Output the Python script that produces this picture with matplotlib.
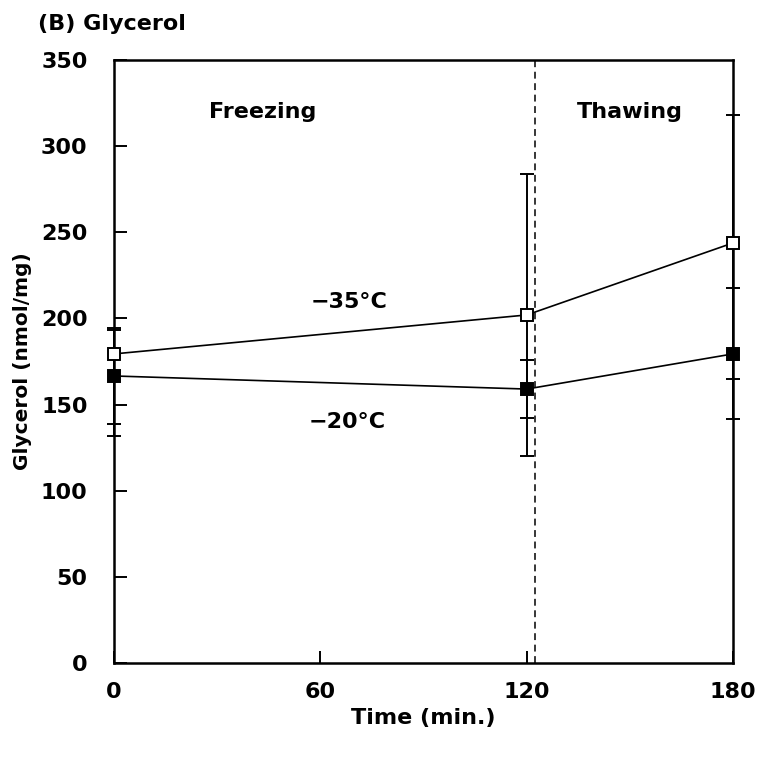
import matplotlib
matplotlib.use("Agg")
import matplotlib.pyplot as plt

plt.rcParams["font.family"] = ["DejaVu Sans"]
plt.rcParams["font.weight"] = "bold"

# data
time_min = [0, 120, 180]
glycerol_m35 = [179.4, 202.0, 243.8]
err_m35_low = [47.5, 82.0, 78.8]
err_m35_high = [14.1, 82.0, 74.3]
glycerol_m20 = [166.6, 159.0, 179.4]
err_m20 = [27.7, 16.7, 38.0]
boundary_min = 122.5
x_ticks = [0, 60, 120, 180]
y_ticks = [0, 50, 100, 150, 200, 250, 300, 350]

fig = plt.figure(figsize=(7.59, 7.60), dpi=100)
ax = fig.add_axes([0.1502, 0.1276, 0.8155, 0.7935])

# error bars (drawn first so markers sit on top)
ax.errorbar(time_min, glycerol_m35, yerr=[err_m35_low, err_m35_high], fmt="none",
            ecolor="black", elinewidth=1.4, capsize=5.2, capthick=1.4,
            clip_on=False, zorder=2)
ax.errorbar(time_min, glycerol_m20, yerr=[err_m20, err_m20], fmt="none",
            ecolor="black", elinewidth=1.4, capsize=5.2, capthick=1.4,
            clip_on=False, zorder=2)

# freezing / thawing boundary
ax.axvline(boundary_min, color="black", linewidth=1.1, linestyle=(0, (4.5, 3)), zorder=1)

ax.plot(time_min, glycerol_m35, color="black", linewidth=1.2, marker="s",
        markersize=9, markerfacecolor="white", markeredgecolor="black",
        markeredgewidth=1.4, clip_on=False, zorder=4)
ax.plot(time_min, glycerol_m20, color="black", linewidth=1.2, marker="s",
        markersize=9, markerfacecolor="black", markeredgecolor="black",
        markeredgewidth=1.4, clip_on=False, zorder=4)

ax.set_xlim(0, 180)
ax.set_ylim(0, 350)
ax.set_xticks(x_ticks)
ax.set_yticks(y_ticks)
ax.tick_params(direction="in", length=9, width=1.4, labelsize=16)
ax.tick_params(axis="y", pad=19)
ax.tick_params(axis="x", pad=14)
for lbl in ax.get_xticklabels() + ax.get_yticklabels():
    lbl.set_fontweight("bold")
for sp in ax.spines.values():
    sp.set_linewidth(1.8)

ax.text(43.3, 320, "Freezing", fontsize=16, fontweight="bold", ha="center", va="center")
ax.text(150, 320, "Thawing", fontsize=16, fontweight="bold", ha="center", va="center")
ax.text(68.5, 209.7, "\u221235\u00b0C", fontsize=16, fontweight="bold", ha="center", va="center")
ax.text(67.9, 140, "\u221220\u00b0C", fontsize=16, fontweight="bold", ha="center", va="center")

ax.set_xlabel("Time (min.)", fontsize=16, fontweight="bold", labelpad=4)
ax.set_ylabel("Glycerol (nmol/mg)", fontsize=14.5, fontweight="bold")
ax.yaxis.set_label_coords(-0.132, 0.5)

fig.text(0.05, 0.968, "(B) Glycerol", fontsize=16, fontweight="bold", ha="left", va="center")

fig.savefig("out.png", dpi=100)
